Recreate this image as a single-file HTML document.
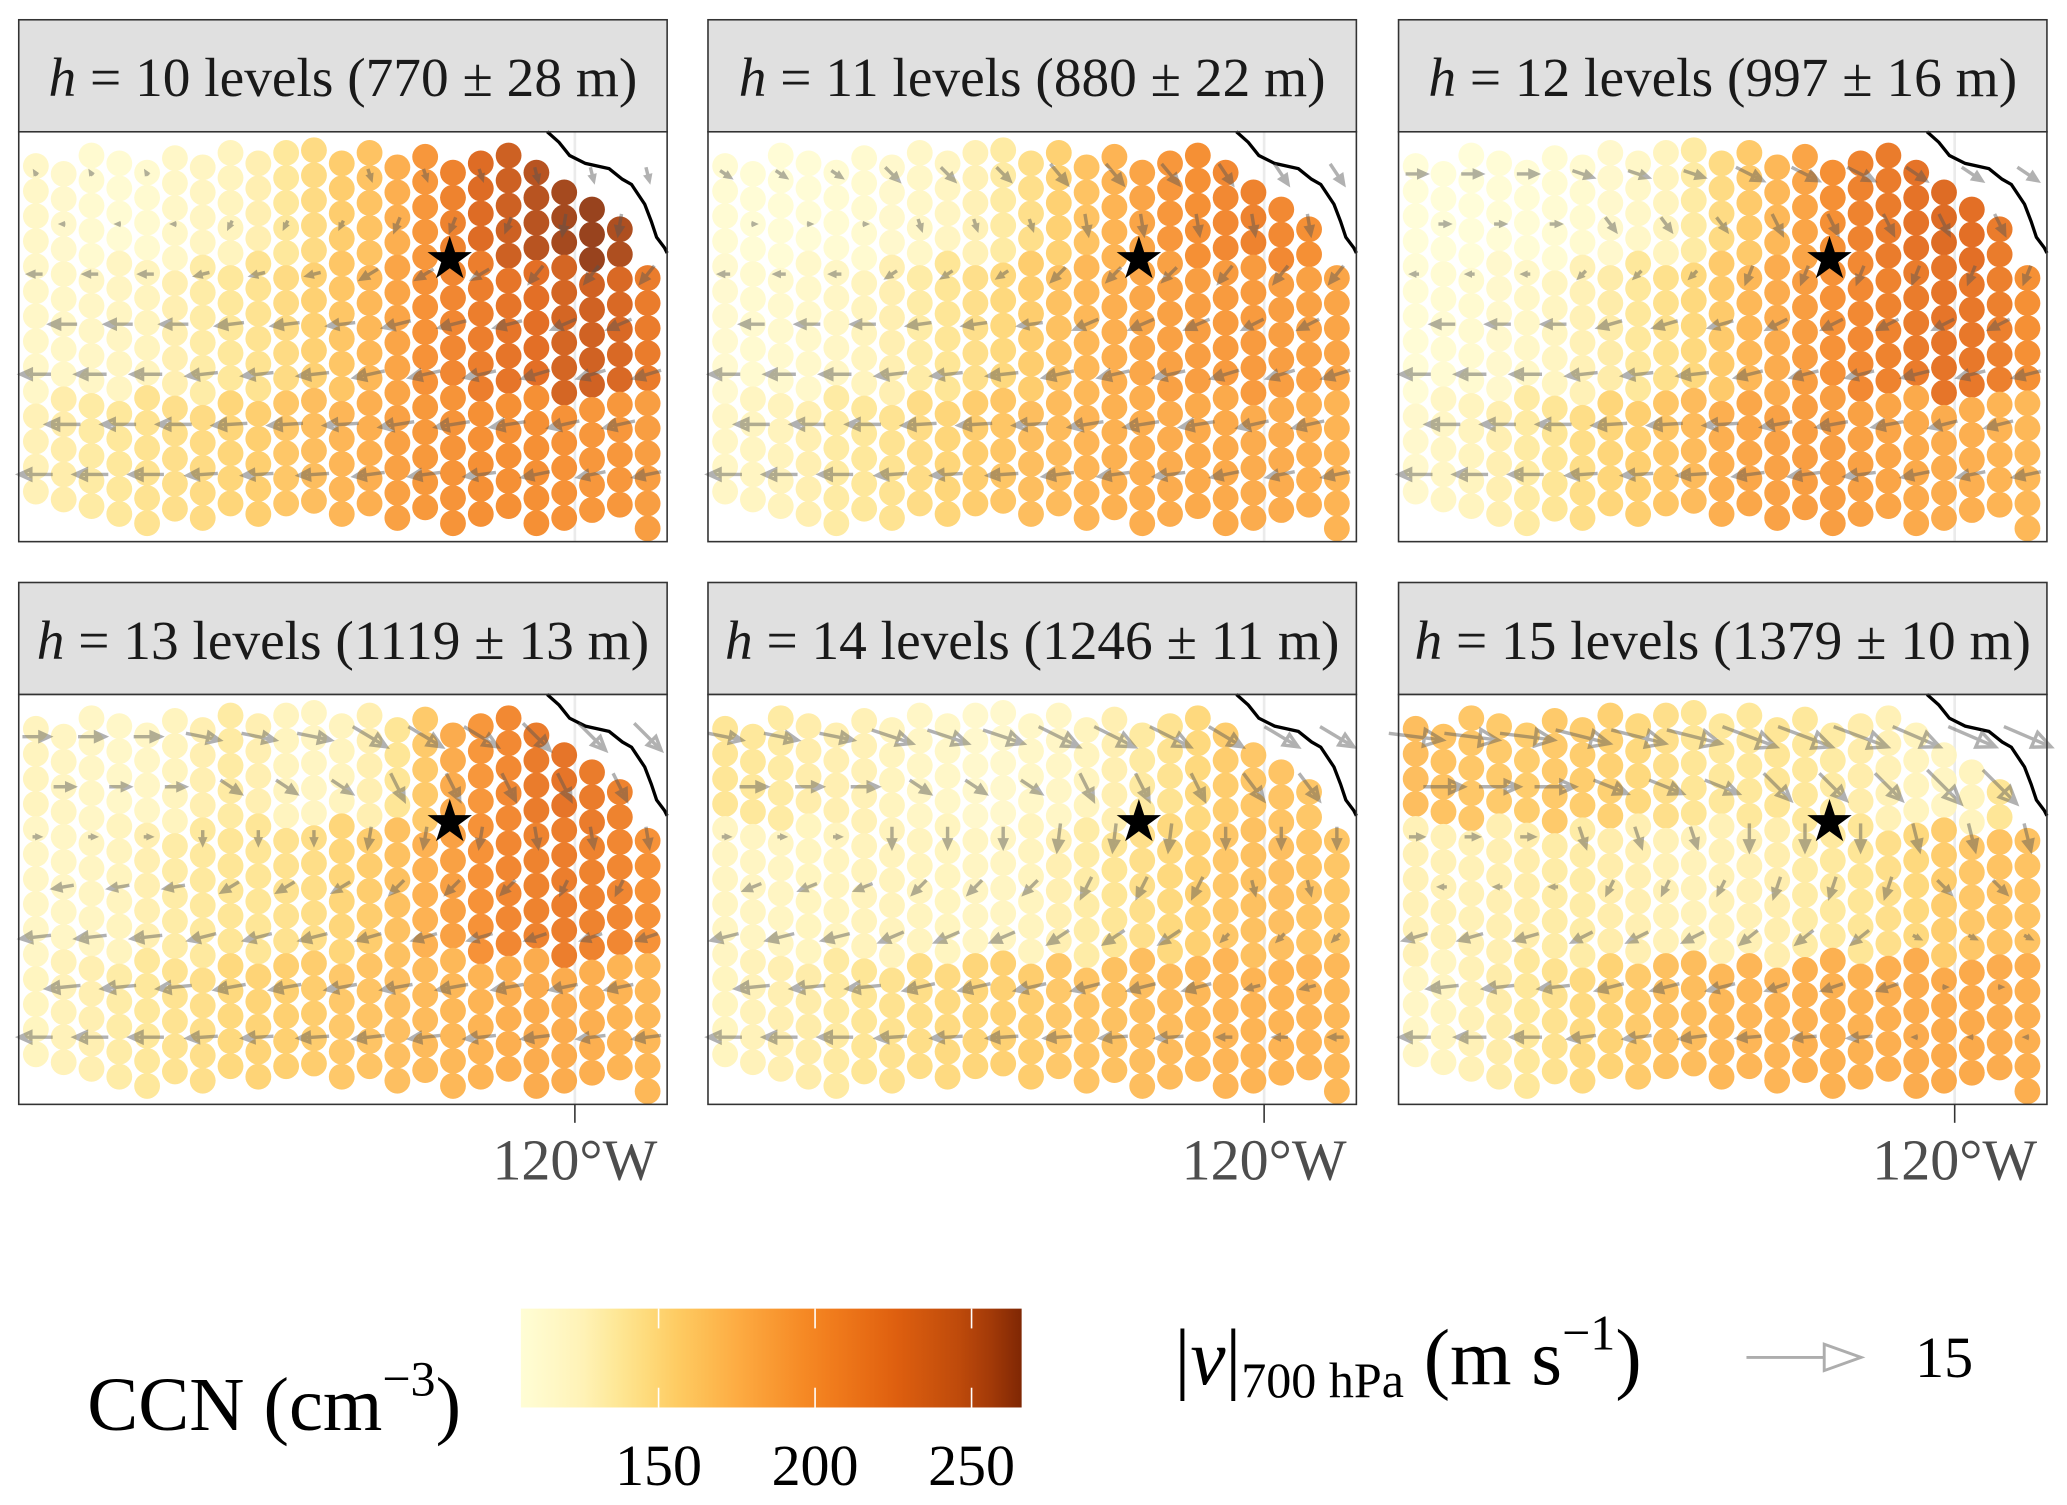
<!DOCTYPE html>
<html><head><meta charset="utf-8"><style>
html,body{margin:0;padding:0;background:#fff}
svg{display:block}
text{font-family:"Liberation Serif","DejaVu Serif",serif}
</style></head><body>
<svg id="fig" width="2067" height="1505" viewBox="0 0 1568 1142" xmlns="http://www.w3.org/2000/svg">
<defs>
<linearGradient id="cbar" x1="0" x2="1" y1="0" y2="0"></linearGradient>
</defs>
<g id="panels"></g>
<g id="legend">
  <text x="66" y="1085" font-size="58">CCN (cm<tspan dy="-26" font-size="38">−3</tspan><tspan dy="26">)</tspan></text>
  <rect x="395" y="993" width="380" height="75" fill="url(#cbar)"/>
  <g id="cbticks"></g>
  <text x="891" y="1050" font-size="60">|<tspan font-style="italic">v</tspan>|<tspan font-size="38" dy="10">700 hPa</tspan><tspan dy="-10"> (m s</tspan><tspan dy="-26" font-size="38">−1</tspan><tspan dy="26">)</tspan></text>
  <g stroke="#999" stroke-width="2.2" fill="none" opacity="0.8">
    <line x1="1325" y1="1030" x2="1412" y2="1030"/>
    <polygon points="1412,1030 1384,1020 1384,1040" fill="#fff"/>
  </g>
  <text x="1453" y="1045" font-size="44">15</text>
</g>
</svg>
<script>
// ---- data ----
const panelTitles = ["10 levels (770 ± 28 m)","11 levels (880 ± 22 m)","12 levels (997 ± 16 m)","13 levels (1119 ± 13 m)","14 levels (1246 ± 11 m)","15 levels (1379 ± 10 m)"];
const cbTicks = [150, 200, 250];
const windLegendValue = 15;
// CCN per column (23 columns), top/mid/bottom band, per panel
const ccnTop = [
 [118,115,112,110,112,118,122,125,130,138,148,158,165,178,195,210,228,240,252,258,262,255,225],
 [110,108,108,108,110,112,115,118,122,128,135,145,155,165,175,185,195,200,205,210,205,200,190],
 [106,106,106,108,108,110,112,115,118,125,135,148,160,172,185,200,210,215,222,228,225,215,205],
 [125,122,120,118,120,125,130,135,130,125,122,125,130,140,160,180,195,205,215,220,215,210,205],
 [140,138,135,132,130,128,125,120,118,115,115,118,120,125,130,136,142,150,158,162,164,162,160],
 [168,165,162,160,158,160,158,155,150,145,140,138,138,140,138,135,132,128,125,122,125,140,150]];
const ccnMid = [
 [118,118,120,122,125,130,134,138,142,148,155,163,172,185,198,206,213,220,225,235,238,232,215],
 [113,112,114,116,120,125,130,134,140,145,150,158,166,172,178,184,188,190,192,192,190,188,185],
 [108,110,112,115,118,123,128,133,138,144,150,160,172,180,190,198,205,210,215,220,218,212,200],
 [120,120,122,125,130,134,137,140,140,143,146,152,158,166,176,188,198,206,210,213,210,206,198],
 [122,122,122,124,125,126,126,125,124,122,122,125,130,134,140,145,150,156,162,166,167,165,163],
 [128,128,128,130,132,134,134,132,130,128,127,128,129,131,134,137,140,145,150,158,162,165,165]];
const ccnBot = [
 [128,132,135,138,142,145,148,152,157,162,168,173,178,188,194,197,200,200,200,198,195,195,190],
 [120,123,126,130,135,138,142,147,152,158,163,168,170,174,177,179,180,182,182,180,180,178,175],
 [115,120,125,130,135,140,146,152,157,163,170,178,184,187,190,190,188,185,182,180,178,175,172],
 [124,127,130,134,138,142,145,150,153,156,158,161,164,167,170,172,175,178,180,180,178,175,172],
 [124,127,130,133,136,140,143,146,149,152,155,158,161,164,166,168,170,172,174,175,175,174,172],
 [120,123,128,133,138,143,149,154,160,166,169,172,173,174,177,177,177,178,180,182,182,180,178]];
// wind (m/s): 7 arrow rows x 4 column bands, per panel
const windU = [
 [[-0.3,0,0.5,0.5],[-0.5,-0.5,-0.8,-0.5],[-2,-2,-2.5,-2],[-4,-4,-4,-3.5],[-4.5,-4.5,-4.5,-4],[-5,-5,-5,-4.5],[-5,-4.5,-4.5,-4]],
 [[1.5,2,2.5,2],[0.5,0.5,0.5,0.5],[-1.5,-1.5,-2,-2],[-3.5,-3.5,-3.5,-3],[-4.5,-4.5,-4.5,-4],[-5,-5,-5,-4.5],[-5,-4.5,-4.5,-4]],
 [[3,3,4,3],[1.5,1.5,1.5,1.5],[-1,-1,-1,-1],[-3.5,-3.5,-3,-3],[-4.5,-4.5,-4,-4],[-5,-5,-4.5,-4],[-5,-4.5,-4.5,-4]],
 [[4,5,5,4],[3,3,2,2],[1,0,-0.5,0.5],[-3,-2.5,-2,-1],[-4.5,-4,-3.5,-3],[-5,-4.5,-4.5,-4],[-5,-4.5,-4.5,-4]],
 [[5,6,6,5],[4,3,2,3],[1,0,-0.5,0],[-2.5,-2,-1.5,0.5],[-4,-3.5,-3,-1],[-5,-4.5,-4,-2],[-5,-4.5,-4,-2]],
 [[8,8,8,7],[6,5,4,5],[2,1,0,1],[-1,-1,-1,2],[-3.5,-3,-2.5,1],[-4.5,-4,-3,0.5],[-4.5,-4,-3.5,-0.5]]];
const windV = [
 [[0.5,0,-1.5,-2],[0,-1,-2,-3],[0,-0.5,-1.5,-2.5],[0,-0.5,-1,-1.5],[0,-0.5,-1,-1.2],[0,-0.3,-0.8,-1],[0,-0.3,-0.6,-0.8]],
 [[-1,-2,-3,-3],[0,-1.5,-3,-3],[0,-1,-2,-2.5],[0,-0.5,-1.5,-1.5],[0,-0.5,-1,-1.2],[0,-0.3,-0.8,-1],[0,-0.3,-0.6,-0.8]],
 [[0,-1,-2,-2],[0,-2,-3,-3],[0,-1,-2.5,-2.5],[0,-1,-1.5,-1.5],[0,-0.5,-1,-1],[0,-0.3,-0.8,-1],[0,-0.3,-0.6,-0.8]],
 [[0,-1,-3,-4],[0,-2,-4,-4],[0,-2,-3,-3],[-0.5,-1.5,-2,-2],[-0.5,-1,-1,-1],[-0.5,-0.8,-0.8,-0.8],[0,-0.3,-0.5,-0.5]],
 [[-1,-2,-3,-3],[0,-2,-4,-4],[0,-3,-4,-3],[-1,-2,-3,-2],[-1,-1.5,-2,-1],[-0.5,-1,-1,-0.5],[0,-0.3,-0.3,0]],
 [[-1,-2,-3,-3],[0,-2,-4,-5],[0,-3,-4,-4],[0,-2,-3,-2],[-1,-1.5,-2,-0.5],[-0.5,-1,-1,0],[0,-0.5,-0.3,0]]];

// ---- layout constants ----
const NS = "http://www.w3.org/2000/svg";
const colX = [14, 537, 1061], rowY = [15, 442];
const PW = 492, HH = 85, PH = 311;
const colTops = [26,32,18,24,31,20,27,16,24,16,14,24,16,27,19,31,24,18,31,46,59,74,111];
const colBots = [277,285,290,285,292,280,297,282,290,282,285,290,290,293,285,292,290,284,292,293,287,292,297];
const dotDX = 21.1, dotX0 = 13, dotDY = 19, dotR = 9.8;
const pxPerMS = 90 / windLegendValue;
const drawScale = 0.85;

const stops = [[106,[255,253,213]],[125,[255,243,185]],[140,[254,228,140]],[155,[254,205,100]],[175,[253,172,66]],[200,[245,132,32]],[225,[224,96,15]],[250,[184,70,10]],[266,[127,39,4]]];
function color(v){
  if(v<=stops[0][0]) return `rgb(${stops[0][1]})`;
  for(let i=1;i<stops.length;i++){
    if(v<=stops[i][0]){
      const a=stops[i-1],b=stops[i],t=(v-a[0])/(b[0]-a[0]);
      const c=a[1].map((x,k)=>Math.round(x+(b[1][k]-x)*t));
      return `rgb(${c})`;
    }
  }
  return `rgb(${stops[stops.length-1][1]})`;
}
const cbX = v => 395 + (v-106)/(266-106)*380;

function el(tag, attrs, parent){
  const e=document.createElementNS(NS,tag);
  for(const k in attrs) e.setAttribute(k, attrs[k]);
  parent.appendChild(e); return e;
}

// colorbar
const grad=document.getElementById('cbar');
for(let v=106; v<=266; v+=10){
  el('stop',{offset:((v-106)/160).toFixed(3),'stop-color':color(v)},grad);
}
const cbt=document.getElementById('cbticks');
cbTicks.forEach(t=>{
  const x=cbX(t);
  const l1=el('line',{x1:x,x2:x,y1:993,y2:1008,stroke:'#fff','stroke-width':1.2},cbt);
  
  
  const l2=el('line',{x1:x,x2:x,y1:1053,y2:1068,stroke:'#fff','stroke-width':1.2},cbt);
  
  
  const tx=el('text',{x:x,y:1127,'font-size':44,'text-anchor':'middle'},cbt);
  tx.textContent=t;
  
  
});

const root=document.getElementById('panels');
for(let p=0;p<6;p++){
  const ox=colX[p%3], oy=rowY[Math.floor(p/3)], py=oy+HH;
  const g=el('g',{},root);
  
  
  const hdr=el('rect',{x:ox,y:oy,width:PW,height:HH,fill:'#e0e0e0',stroke:'#333','stroke-width':1.2},g);
  
  
  const t=el('text',{x:ox+PW/2,y:oy+58,'font-size':42,'text-anchor':'middle',fill:'#1a1a1a'},g);
  t.innerHTML='<tspan font-style="italic">h</tspan> = '+panelTitles[p];
  
  
  const bg=el('rect',{x:ox,y:py,width:PW,height:PH,fill:'#fff'},g);
  
  
  const gl=el('line',{x1:ox+422,x2:ox+422,y1:py,y2:py+PH,stroke:'#ebebeb','stroke-width':2},g);
  
  
  // dots
  const dg=el('g',{opacity:0.9},g);
  
  
  for(let c=0;c<23;c++){
    const n=Math.round((colBots[c]-colTops[c])/dotDY)+1;
    for(let r=0;r<n;r++){
      const yr=colTops[c]+r*dotDY;
      const v = yr<100 ? ccnTop[p][c] : (yr<200 ? ccnMid[p][c] : ccnBot[p][c]);
      const d=el('circle',{cx:ox+dotX0+c*dotDX,cy:py+yr,r:dotR,fill:color(v)},dg);
      
      
    }
  }
  // coastline
  const cl=el('polyline',{points:[[401,0],[410,8],[418,18],[430,24],[448,28],[458,36],[465,40],[475,55],[480,68],[484,80],[490,88],[492,92]].map(a=>(ox+a[0])+','+(py+a[1])).join(' '),fill:'none',stroke:'#000','stroke-width':2.5},g);
  
  
  // arrows
  const ag=el('g',{stroke:'#555','stroke-width':2.6,fill:'none',opacity:0.45},g);
  
  
  for(let r=0;r<7;r++){
    const yc=py+32+r*38;
    for(let c=(r%2);c<23;c+=2){
      const band=Math.min(3,Math.floor(c/6));
      const u=windU[p][r][band], v=windV[p][r][band];
      const len=Math.hypot(u,v)*pxPerMS*drawScale;
      if(len<2) continue;
      const xc=ox+dotX0+c*dotDX;
      const dx=u*pxPerMS*drawScale, dy=-v*pxPerMS*drawScale;
      const x1=xc-dx/2,y1=yc-dy/2,x2=xc+dx/2,y2=yc+dy/2;
      const a=el('line',{x1:x1,y1:y1,x2:x2,y2:y2},ag);
      
      
      const hl=Math.min(len*0.35,14), hw=hl*0.45;
      const ux=dx/len, uy=dy/len;
      const bx=x2-ux*hl, by=y2-uy*hl;
      const h=el('polygon',{points:`${x2},${y2} ${bx-uy*hw},${by+ux*hw} ${bx+uy*hw},${by-ux*hw}`},ag);
      
      
    }
  }
  const st=el('text',{x:ox+327,y:py+111,'font-size':44,'text-anchor':'middle',fill:'#000'},g);
  st.textContent='★';
  
  
  const br=el('rect',{x:ox,y:py,width:PW,height:PH,fill:'none',stroke:'#333','stroke-width':1.2},g);
  
  
  if(p>=3){
    const tk=el('line',{x1:ox+422,x2:ox+422,y1:py+PH,y2:py+PH+14,stroke:'#333','stroke-width':1.2},g);
    
    
    const tl=el('text',{x:ox+422,y:py+PH+57,'font-size':44,'text-anchor':'middle',fill:'#4d4d4d'},g);
    tl.textContent='120°W';
    
    
  }
}
</script>
</body></html>
